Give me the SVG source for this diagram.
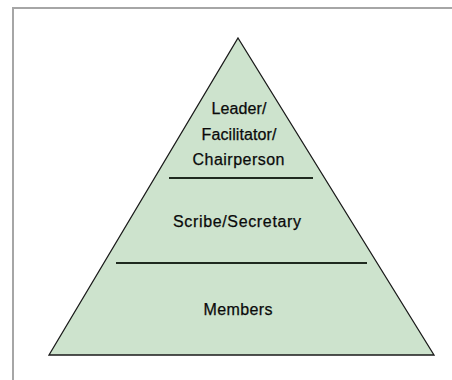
<svg xmlns="http://www.w3.org/2000/svg" width="452" height="380" viewBox="0 0 452 380">
  <style>
    .frame { fill: none; stroke: #a6a6a6; stroke-width: 2; }
    .pyramid { fill: #cde3cd; stroke: #1a1a1a; stroke-width: 1.3; stroke-linejoin: miter; }
    .divider { stroke: #1f2a1f; stroke-width: 2; }
    .label { font-family: "Liberation Sans", Arial, sans-serif; font-size: 16px; fill: #0a0a0a; text-anchor: middle; stroke: #0a0a0a; stroke-width: 0.25; }
  </style>
  <rect width="452" height="380" fill="#ffffff"/>
  <!-- page frame: top and left edges only -->
  <polyline class="frame" points="13,380 13,8 452,8"/>

  <g id="pyramid">
    <polygon class="pyramid" points="238,38 434,355 49,355"/>
  </g>

  <g id="connectors">
    <line class="divider" x1="169" y1="178" x2="313" y2="178"/>
    <line class="divider" x1="116" y1="263" x2="367" y2="263"/>
  </g>

  <g id="leader">
    <text class="label" x="239" y="114" textLength="55" lengthAdjust="spacing">Leader/</text>
    <text class="label" x="239" y="139.5" textLength="75" lengthAdjust="spacing">Facilitator/</text>
    <text class="label" x="238.5" y="165" textLength="92" lengthAdjust="spacing">Chairperson</text>
  </g>

  <g id="scribe">
    <text class="label" x="237" y="227" textLength="128" lengthAdjust="spacing">Scribe/Secretary</text>
  </g>

  <g id="members">
    <text class="label" x="238" y="315" textLength="69" lengthAdjust="spacing">Members</text>
  </g>
</svg>
